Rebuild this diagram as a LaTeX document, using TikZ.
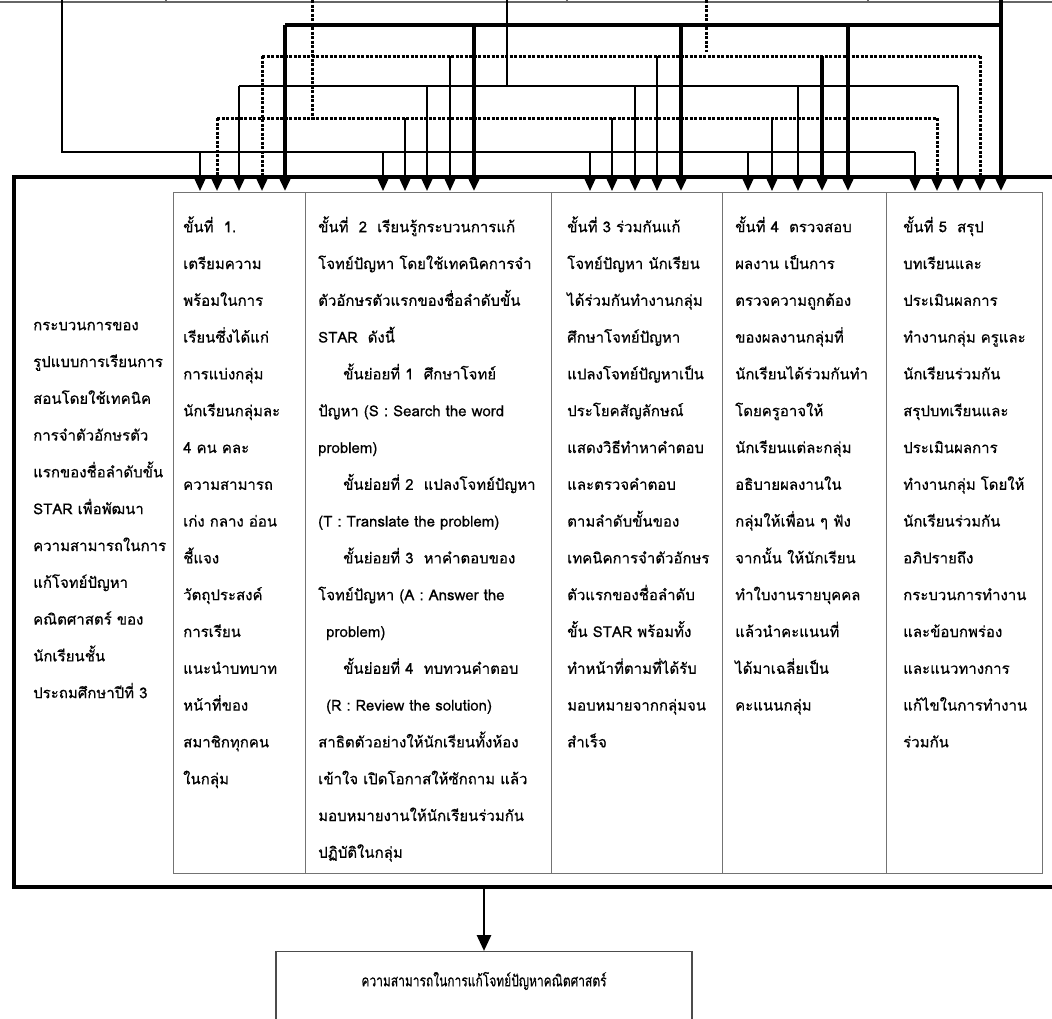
\documentclass[tikz,border=0pt]{standalone}
\usepackage{fontspec}
\newfontfamily\thaifont[Script=Thai,FakeBold=0.5]{Loma}
\usetikzlibrary{arrows.meta}
\begin{document}
\begin{tikzpicture}[x=1pt,y=-1pt,
  tip/.style={-{Triangle[width=14pt,length=16pt]}},
  lA/.style={line width=2.4pt},
  lS/.style={line width=2pt},
  lC/.style={line width=2.8pt},
  lE/.style={line width=3.3pt},
  ldot/.style={line width=3pt,dash pattern=on 3pt off 1.5pt},
  colbox/.style={draw=black!55,line width=1.4pt,minimum height=681pt,anchor=north west,inner sep=0pt},
  coltext/.style={anchor=north west,inner sep=0pt,align=left,font={\thaifont\fontsize{15}{36.8}\selectfont}},
  mainbox/.style={draw=black,line width=3.8pt,anchor=north west,inner sep=0pt},
]
\useasboundingbox (0,0) rectangle (1052,1018);
\fill[white] (0,0) rectangle (1052,1018);

% top strip (cut-off boxes above)
\draw[black!60,line width=1.4pt] (0,2) -- (1052,2);
\foreach \x in {166,567,868} \draw[black!60,line width=1.4pt] (\x,0) -- (\x,2);

% main box and columns
\node[mainbox,minimum width=1060pt,minimum height=710pt] (main) at (12,175) {};
\node[colbox,minimum width=132pt] (c1) at (173,192) {};
\node[colbox,minimum width=246pt] (c2) at (305,192) {};
\node[colbox,minimum width=171pt] (c3) at (551,192) {};
\node[colbox,minimum width=164pt] (c4) at (722,192) {};
\node[colbox,minimum width=156pt] (c5) at (886,192) {};

% arrow targets
\foreach \g/\a/\b/\c/\d/\e in {1/200/217/239/262/285,2/383/405/427/450/474,3/590/612/635/657/681,4/748/772/798/822/848,5/915/937/958/980/1001}{
  \coordinate (t\g1) at (\a,191);
  \coordinate (t\g2) at (\b,191);
  \coordinate (t\g3) at (\c,191);
  \coordinate (t\g4) at (\d,191);
  \coordinate (t\g5) at (\e,191);
}
% sources at top
\coordinate (sA) at (62,0);
\coordinate (sB) at (312,0);
\coordinate (sC) at (507,0);
\coordinate (sD) at (706,0);
\coordinate (sE) at (1001,0);
% bus levels
\coordinate (yA) at (0,152);
\coordinate (yB) at (0,118);
\coordinate (yC) at (0,86);
\coordinate (yD) at (0,56);
\coordinate (yE) at (0,25);

% bus A (solid)
\draw[lA] (sA) -- (sA |- yA) -- (t51 |- yA);
\foreach \g in {1,2,3,4,5} \draw[lA,tip] (t\g1 |- yA) -- (t\g1);
% bus B (dotted)
\draw[ldot] (sB) -- ([yshift=-3pt]sB |- yB);
\draw[ldot] (t12 |- yB) -- (t52 |- yB);
\draw[ldot,tip] (t12 |- yB) -- (t12);
\draw[ldot,tip] (t52 |- yB) -- (t52);
\foreach \g in {2,3,4} \draw[lS,tip] (t\g2 |- yB) -- (t\g2);
% bus C (solid)
\draw[lC] (sC) -- (sC |- yC);
\draw[lC] (t13 |- yC) -- (t53 |- yC);
\foreach \g in {1,2,3,4,5} \draw[lC,tip] (t\g3 |- yC) -- (t\g3);
% bus D (dotted)
\draw[ldot] (sD) -- ([yshift=4pt]sD |- yD);
\draw[ldot] (t14 |- yD) -- (t54 |- yD);
\draw[ldot,tip] (t14 |- yD) -- (t14);
\draw[ldot,tip] (t54 |- yD) -- (t54);
\draw[lS,tip] (t24 |- yD) -- (t24);
\draw[lS,tip] (t34 |- yD) -- (t34);
\draw[lE,tip] (t44 |- yD) -- (t44);
% bus E (solid thick)
\draw[lE] (t15 |- yE) -- (t55 |- yE);
\draw[lE,tip] (sE) -- (t55);
\foreach \g in {1,2,3,4} \draw[lE,tip] (t\g5 |- yE) -- (t\g5);

% texts
\node[coltext] (lt) at (33,305) {\rule{0pt}{25pt}กระบวนการของ\\รูปแบบการเรียนการ\\สอนโดยใช้เทคนิค\\การจำตัวอักษรตัว\\แรกของชื่อลำดับขั้น\\STAR เพื่อพัฒนา\\ความสามารถในการ\\แก้โจทย์ปัญหา\\คณิตศาสตร์ ของ\\นักเรียนชั้น\\ประถมศึกษาปีที่ 3};

\node[coltext] (x1) at (183,207) {\rule{0pt}{25pt}ขั้นที่~~1.\\เตรียมความ\\พร้อมในการ\\เรียนซึ่งได้แก่\\การแบ่งกลุ่ม\\นักเรียนกลุ่มละ\\4 คน คละ\\ความสามารถ\\เก่ง กลาง อ่อน\\ชี้แจง\\วัตถุประสงค์\\การเรียน\\แนะนำบทบาท\\หน้าที่ของ\\สมาชิกทุกคน\\ในกลุ่ม};

\node[coltext] (x2) at (318,207) {\rule{0pt}{25pt}ขั้นที่~~2~~เรียนรู้กระบวนการแก้\\โจทย์ปัญหา โดยใช้เทคนิคการจำ\\ตัวอักษรตัวแรกของชื่อลำดับขั้น\\STAR~~ดังนี้\\\hspace*{25pt}ขั้นย่อยที่ 1~~ศึกษาโจทย์\\ปัญหา (S : Search the word\\problem)\\\hspace*{25pt}ขั้นย่อยที่ 2~~แปลงโจทย์ปัญหา\\(T : Translate the problem)\\\hspace*{25pt}ขั้นย่อยที่ 3~~หาคำตอบของ\\โจทย์ปัญหา (A : Answer the\\\hspace*{8pt}problem)\\\hspace*{25pt}ขั้นย่อยที่ 4~~ทบทวนคำตอบ\\\hspace*{8pt}(R : Review the solution)\\สาธิตตัวอย่างให้นักเรียนทั้งห้อง\\เข้าใจ เปิดโอกาสให้ซักถาม แล้ว\\มอบหมายงานให้นักเรียนร่วมกัน\\ปฏิบัติในกลุ่ม};

\node[coltext] (x3) at (567,207) {\rule{0pt}{25pt}ขั้นที่ 3 ร่วมกันแก้\\โจทย์ปัญหา นักเรียน\\ได้ร่วมกันทำงานกลุ่ม\\ศึกษาโจทย์ปัญหา\\แปลงโจทย์ปัญหาเป็น\\ประโยคสัญลักษณ์\\แสดงวิธีทำหาคำตอบ\\และตรวจคำตอบ\\ตามลำดับขั้นของ\\เทคนิคการจำตัวอักษร\\ตัวแรกของชื่อลำดับ\\ขั้น STAR พร้อมทั้ง\\ทำหน้าที่ตามที่ได้รับ\\มอบหมายจากกลุ่มจน\\สำเร็จ};

\node[coltext] (x4) at (735,207) {\rule{0pt}{25pt}ขั้นที่ 4~~ตรวจสอบ\\ผลงาน เป็นการ\\ตรวจความถูกต้อง\\ของผลงานกลุ่มที่\\นักเรียนได้ร่วมกันทำ\\โดยครูอาจให้\\นักเรียนแต่ละกลุ่ม\\อธิบายผลงานใน\\กลุ่มให้เพื่อน ๆ ฟัง\\จากนั้น ให้นักเรียน\\ทำใบงานรายบุคคล\\แล้วนำคะแนนที่\\ได้มาเฉลี่ยเป็น\\คะแนนกลุ่ม};

\node[coltext] (x5) at (903,207) {\rule{0pt}{25pt}ขั้นที่ 5~~สรุป\\บทเรียนและ\\ประเมินผลการ\\ทำงานกลุ่ม ครูและ\\นักเรียนร่วมกัน\\สรุปบทเรียนและ\\ประเมินผลการ\\ทำงานกลุ่ม โดยให้\\นักเรียนร่วมกัน\\อภิปรายถึง\\กระบวนการทำงาน\\และข้อบกพร่อง\\และแนวทางการ\\แก้ไขในการทำงาน\\ร่วมกัน};

% result box
\node[draw=black!70,line width=1.4pt,minimum width=416pt,minimum height=90pt,anchor=north,inner sep=0pt] (res) at (484,951) {};
\node[font={\thaifont\fontsize{16}{18}\selectfont},inner sep=0pt,xscale=0.75,transform shape] (rest) at (484,981) {ความสามารถในการแก้โจทย์ปัญหาคณิตศาสตร์};
\draw[lC,tip] (main.south -| res.north) -- (res.north);
\end{tikzpicture}
\end{document}
